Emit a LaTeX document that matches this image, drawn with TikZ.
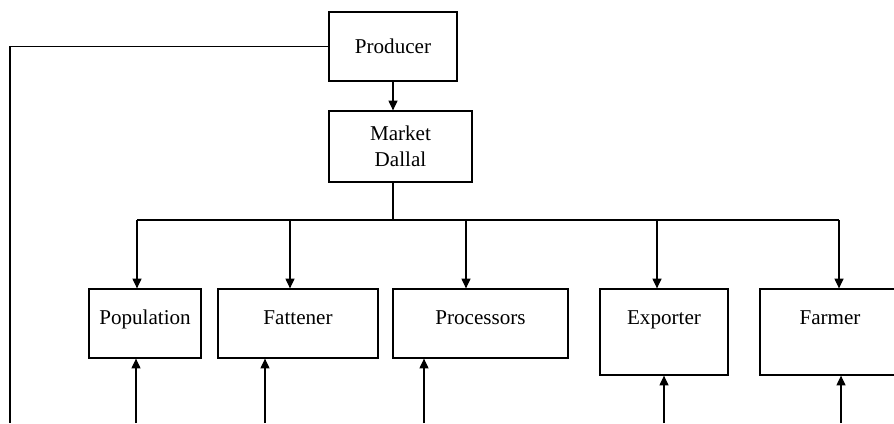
\documentclass[tikz,border=0pt]{standalone}
\usepackage{fontspec}
\setmainfont{Liberation Serif}
\usepackage{tikz}
\usetikzlibrary{positioning}
\usetikzlibrary{arrows.meta}
\tikzset{
  box/.style={draw, line width=0.9pt, inner xsep=0pt, align=center, font=\fontsize{15}{18.5}\selectfont},
  lowbox/.style={box, inner ysep=0.5cm, text height=0.375cm, text depth=0.35cm},
  tallbox/.style={box, inner ysep=0.5cm, text height=0.375cm, text depth=0.775cm},
  flow/.style={line width=0.8pt, -{Triangle[length=7pt,width=6.5pt]}},
  link/.style={line width=0.9pt}
}

\begin{document}
\begin{tikzpicture}[x=0.025cm,y=-0.025cm]
            \useasboundingbox (0,0) rectangle (894,423);
            % Top of the chain
            \node[box, minimum width=3.2cm, minimum height=1.725cm] (producer) at (393,46.5) {Producer};
            \node[box, minimum width=3.575cm, minimum height=1.775cm] (dallal) at (400.5,146.5) {Market\\Dallal};
            % Buyers
            \node[lowbox, minimum width=2.8cm] (population) at (145,323.5) {Population};
            \node[lowbox, minimum width=4cm] (fattener) at (298,323.5) {Fattener};
            \node[lowbox, minimum width=4.375cm] (processors) at (480.5,323.5) {Processors};
            \node[tallbox, minimum width=3.2cm] (exporter) at (664,332) {Exporter};
            \node[tallbox, minimum width=3.5cm] (farmer) at (830,332) {Farmer};
            % Bus under the dallal
            \coordinate (hub) at (393,220);
            \coordinate (t1) at (137,220);
            \coordinate (t2) at (290,220);
            \coordinate (t3) at (466,220);
            \coordinate (t4) at (657,220);
            \coordinate (t5) at (839,220);
            \draw[flow] (producer.south) -- (producer.south |- dallal.north);
            \draw[link] (hub |- dallal.south) -- (hub);
            \draw[link] (t1) -- (t5);
            \draw[flow] (t1) -- (t1 |- population.north);
            \draw[flow] (t2) -- (t2 |- fattener.north);
            \draw[flow] (t3) -- (t3 |- processors.north);
            \draw[flow] (t4) -- (t4 |- exporter.north);
            \draw[flow] (t5) -- (t5 |- farmer.north);
            % Lines coming in from below
            \coordinate (b1) at (136,423);
            \coordinate (b2) at (265,423);
            \coordinate (b3) at (424,423);
            \coordinate (b4) at (664,423);
            \coordinate (b5) at (841,423);
            \draw[flow] (b1) -- (b1 |- population.south);
            \draw[flow] (b2) -- (b2 |- fattener.south);
            \draw[flow] (b3) -- (b3 |- processors.south);
            \draw[flow] (b4) -- (b4 |- exporter.south);
            \draw[flow] (b5) -- (b5 |- farmer.south);
            % Return line on the left
            \coordinate (lft) at (10,423);
            \draw[link] (producer.west) -| (lft);
        \end{tikzpicture}
\end{document}
